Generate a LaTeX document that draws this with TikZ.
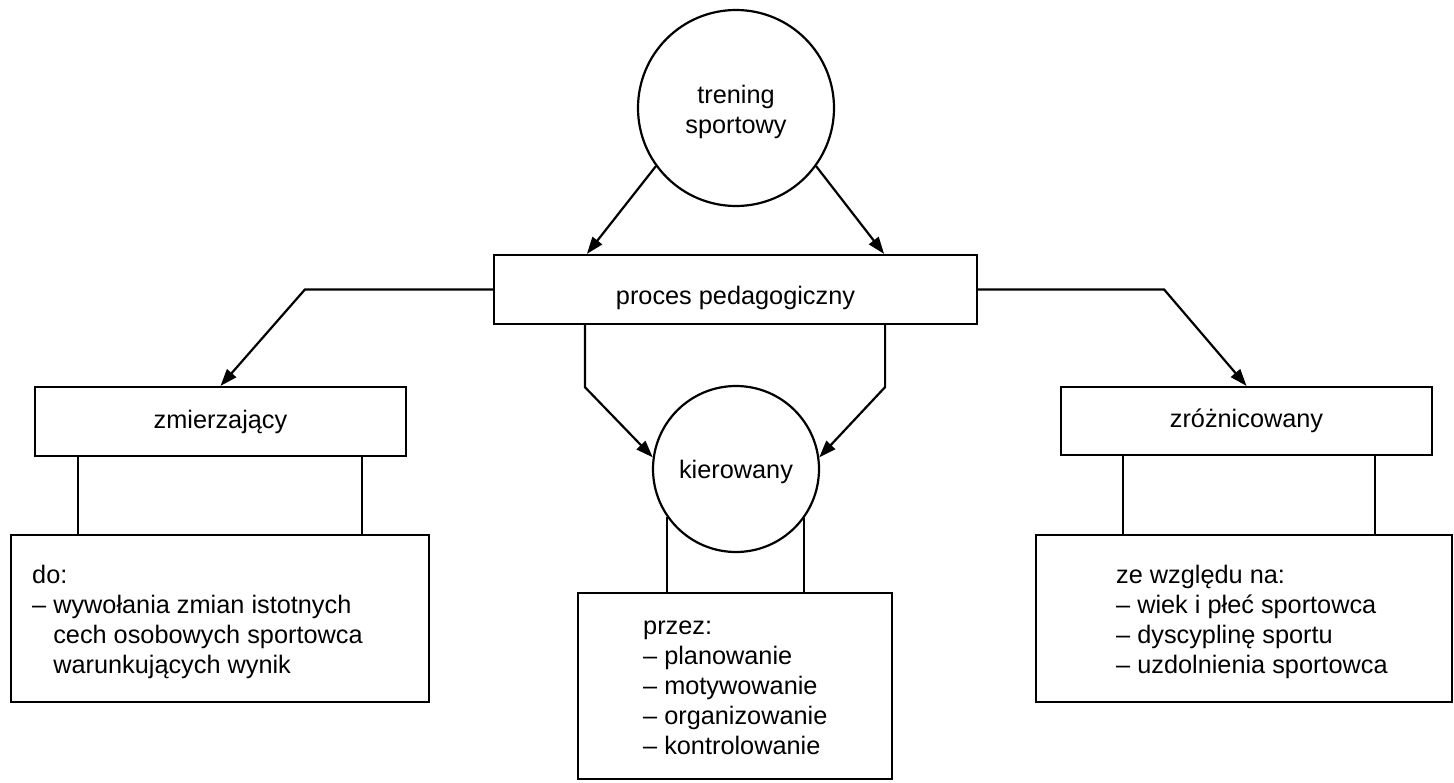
\documentclass[tikz,border=0pt]{standalone}
\usepackage{fontspec}
\setmainfont{Liberation Sans}
\usetikzlibrary{arrows.meta,calc}
\begin{document}
\begin{tikzpicture}[x=1pt,y=-1pt,
  every node/.style={font=\fontsize{25.3}{30}\selectfont},
  ln/.style={line width=2.2pt, line join=miter},
  arr/.style={ln,-{Triangle[length=17pt,width=12pt]}},
  box/.style={draw, line width=2.2pt, rectangle, inner sep=0pt},
  ring/.style={draw, line width=2.2pt, circle, inner sep=0pt, align=center},
  txt/.style={anchor=base west, align=left, inner sep=0pt}]
\useasboundingbox (0,0) rectangle (1454,782);
\fill[white] (0,0) rectangle (1454,782);

% top level
\node[ring, minimum size=196pt, text height=51pt, text depth=0pt] (tr) at (736,108) {trening\\sportowy};
\node[box, minimum width=483pt, minimum height=69pt, text height=29pt, text depth=0pt]
  (pp) at (735.5,289.5) {proces pedagogiczny};

% second level
\node[box, minimum width=371pt, minimum height=69pt] (zm) at (220.5,421.5) {zmierzający};
\node[ring, minimum size=166pt, text height=18pt, text depth=0pt] (kr) at (736,469) {kierowany};
\node[box, minimum width=371pt, minimum height=68pt] (zr) at (1246.5,421) {zróżnicowany};

% detail boxes
\node[box, minimum width=418pt, minimum height=167pt] (dob) at (220,618.5) {};
\node[box, minimum width=314pt, minimum height=186pt] (pzb) at (735,686) {};
\node[box, minimum width=416pt, minimum height=167pt] (zeb) at (1244,618.5) {};

% multi-line texts, placed by the baseline of their last line
\node[txt] (dot) at (32,673) {do:\\– wywołania zmian istotnych\\\hphantom{– }cech osobowych sportowca\\\hphantom{– }warunkujących wynik};
\node[txt] (pzt) at (643,754) {przez:\\– planowanie\\– motywowanie\\– organizowanie\\– kontrolowanie};
\node[txt] (zet) at (1116,673) {ze względu na:\\– wiek i płeć sportowca\\– dyscyplinę sportu\\– uzdolnienia sportowca};

% arrows from the top circle
\draw[arr] (tr.216) -- ([xshift=94pt]pp.north west);
\draw[arr] (tr.324) -- ([xshift=-94pt]pp.north east);

% branches of the process box
\draw[arr] (pp.west) -- ++(-188,0) -- (zm.north);
\draw[arr] (pp.east) -- ++(186,0) -- (zr.north);
\draw[arr] ([xshift=92pt]pp.south west) -- ++(0,62) -- (kr.172);
\draw[arr] ([xshift=-93pt]pp.south east) -- ++(0,62) -- (kr.8);

% links to the detail boxes
\coordinate (a1) at ([xshift=44pt]zm.south west);
\coordinate (a2) at ([xshift=-45pt]zm.south east);
\draw[ln] (a1) -- (a1 |- dob.north);
\draw[ln] (a2) -- (a2 |- dob.north);
\coordinate (b1) at ([xshift=63pt]zr.south west);
\coordinate (b2) at ([xshift=-58pt]zr.south east);
\draw[ln] (b1) -- (b1 |- zeb.north);
\draw[ln] (b2) -- (b2 |- zeb.north);
\draw[ln] (kr.215) -- (kr.215 |- pzb.north);
\draw[ln] (kr.324) -- (kr.324 |- pzb.north);
\end{tikzpicture}
\end{document}
